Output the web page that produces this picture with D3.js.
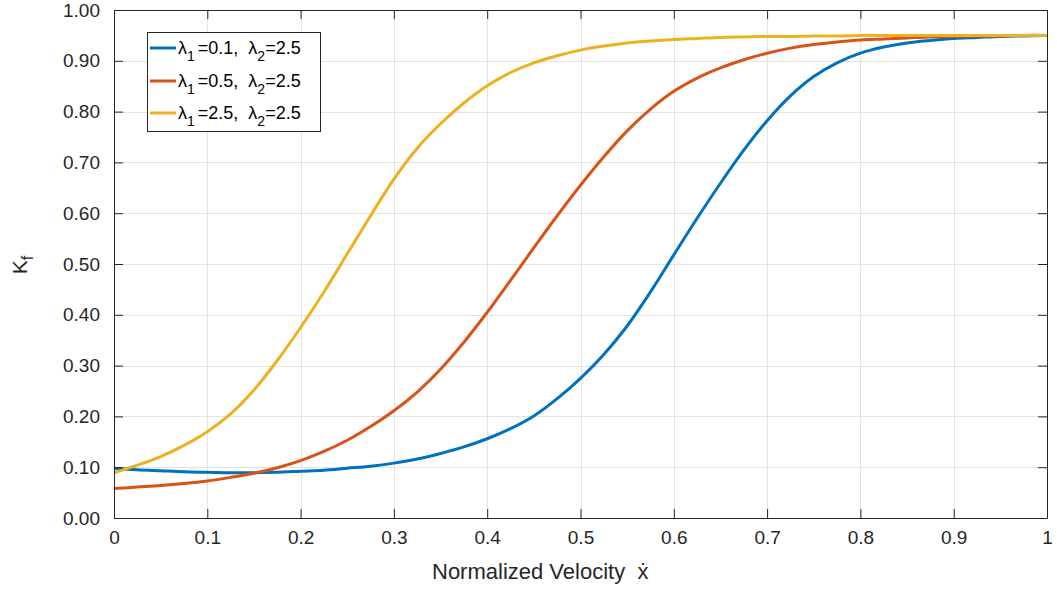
<!DOCTYPE html>
<html>
<head>
<meta charset="utf-8">
<script src="https://cdn.jsdelivr.net/npm/d3@7"></script>
<style>
  html, body { margin: 0; padding: 0; background: #fff; }
  svg { display: block; font-family: "Liberation Sans", Arial, Helvetica, sans-serif; }
</style>
</head>
<body>
<svg id="chart" width="1057" height="590"></svg>
<script>
// ---- data ----
const xs = [0, 0.025, 0.05, 0.075, 0.1, 0.125, 0.15, 0.175, 0.2, 0.225, 0.25, 0.275, 0.3, 0.325, 0.35, 0.375, 0.4, 0.425, 0.45, 0.475, 0.5,
            0.525, 0.55, 0.575, 0.6, 0.625, 0.65, 0.675, 0.7, 0.725, 0.75, 0.775, 0.8, 0.825, 0.85, 0.875, 0.9, 0.925, 0.95, 0.975, 1];
const kBlue = [0.098, 0.095, 0.093, 0.091, 0.090, 0.089, 0.089, 0.090, 0.092, 0.094, 0.098, 0.102, 0.108, 0.116, 0.127, 0.140, 0.156, 0.176, 0.201, 0.235, 0.275,
               0.322, 0.378, 0.445, 0.518, 0.590, 0.659, 0.724, 0.782, 0.831, 0.869, 0.896, 0.915, 0.927, 0.935, 0.940, 0.944, 0.946, 0.948, 0.949, 0.950];
const kRed = [0.058, 0.061, 0.064, 0.068, 0.073, 0.080, 0.088, 0.099, 0.113, 0.131, 0.153, 0.180, 0.211, 0.248, 0.293, 0.346, 0.405, 0.468, 0.532, 0.595, 0.655,
              0.711, 0.762, 0.805, 0.840, 0.866, 0.886, 0.902, 0.915, 0.925, 0.932, 0.937, 0.941, 0.943, 0.945, 0.947, 0.948, 0.949, 0.949, 0.950, 0.950];
const kYellow = [0.089, 0.104, 0.121, 0.143, 0.170, 0.205, 0.252, 0.310, 0.375, 0.445, 0.520, 0.595, 0.667, 0.728, 0.776, 0.817, 0.851, 0.877, 0.896, 0.910, 0.921,
                 0.929, 0.935, 0.939, 0.942, 0.944, 0.946, 0.947, 0.948, 0.948, 0.949, 0.949, 0.950, 0.950, 0.950, 0.950, 0.950, 0.950, 0.950, 0.950, 0.950];
const seriesNames = [["0.1", "2.5"], ["0.5", "2.5"], ["2.5", "2.5"]];
const seriesColors = ["#0072BD", "#D95319", "#EDB120"];
const xTicks = [0, 0.1, 0.2, 0.3, 0.4, 0.5, 0.6, 0.7, 0.8, 0.9, 1];
const xTickLabels = ["0", "0.1", "0.2", "0.3", "0.4", "0.5", "0.6", "0.7", "0.8", "0.9", "1"];
const yTicks = [0, 0.1, 0.2, 0.3, 0.4, 0.5, 0.6, 0.7, 0.8, 0.9, 1];
const yTickLabels = ["0.00", "0.10", "0.20", "0.30", "0.40", "0.50", "0.60", "0.70", "0.80", "0.90", "1.00"];

const svg = d3.select("#chart");
const L = 114, R = 1047, T = 10, B = 518;
const x = d3.scaleLinear().domain([0, 1]).range([L, R]);
const y = d3.scaleLinear().domain([0, 1]).range([B, T]);
const axisColor = "#262626";
const tickFont = 19;

// grid
const grid = svg.append("g").attr("stroke", "#e3e3e3").attr("stroke-width", 1);
grid.selectAll("line.gx").data(xTicks.slice(1, -1)).join("line")
  .attr("x1", d => Math.round(x(d)) + 0.5).attr("x2", d => Math.round(x(d)) + 0.5)
  .attr("y1", T).attr("y2", B);
grid.selectAll("line.gy").data(yTicks.slice(1, -1)).join("line")
  .attr("y1", d => Math.round(y(d)) + 0.5).attr("y2", d => Math.round(y(d)) + 0.5)
  .attr("x1", L).attr("x2", R);

// lines
const data = [kBlue, kRed, kYellow];
const line = d3.line().x((d, i) => x(xs[i])).y(d => y(d)).curve(d3.curveCatmullRom.alpha(0.5));
svg.append("g").selectAll("path").data(data).join("path")
  .attr("d", d => line(d))
  .attr("fill", "none")
  .attr("stroke", (d, i) => seriesColors[i])
  .attr("stroke-width", 3)
  .attr("stroke-linejoin", "round");

// axes
function styleAxis(g) {
  g.attr("font-family", null);
  g.select(".domain").attr("stroke", axisColor).attr("stroke-width", 1);
  g.selectAll(".tick line").attr("stroke", axisColor).attr("stroke-width", 1);
  g.selectAll(".tick text").attr("fill", axisColor).attr("font-size", tickFont);
}
const xAxis = d3.axisBottom(x).tickValues(xTicks).tickFormat((d, i) => xTickLabels[i])
  .tickSizeInner(-9).tickSizeOuter(0).tickPadding(13);
svg.append("g").attr("transform", `translate(0,${B})`).call(xAxis).call(styleAxis);
const yAxis = d3.axisLeft(y).tickValues(yTicks).tickFormat((d, i) => yTickLabels[i])
  .tickSizeInner(-9).tickSizeOuter(0).tickPadding(14);
svg.append("g").attr("transform", `translate(${L},0)`).call(yAxis).call(styleAxis);
const xTop = d3.axisTop(x).tickValues(xTicks).tickFormat("").tickSizeInner(-9).tickSizeOuter(0);
svg.append("g").attr("transform", `translate(0,${T})`).call(xTop).call(styleAxis);
const yRight = d3.axisRight(y).tickValues(yTicks).tickFormat("").tickSizeInner(-9).tickSizeOuter(0);
svg.append("g").attr("transform", `translate(${R},0)`).call(yRight).call(styleAxis);

// axis labels
svg.append("text").attr("x", 432).attr("y", 579).attr("text-anchor", "start")
  .attr("font-size", 22).attr("fill", axisColor).style("white-space", "pre")
  .text("Normalized Velocity  \u1E8B");

const yl = svg.append("text").attr("transform", "translate(27,265) rotate(-90)")
  .attr("text-anchor", "middle").attr("font-size", 21).attr("fill", axisColor);
yl.append("tspan").text("K");
yl.append("tspan").attr("dy", 6).attr("font-size", 16).text("f");

// legend
const lg = svg.append("g");
lg.append("rect").attr("x", 147.5).attr("y", 32.5).attr("width", 173).attr("height", 99)
  .attr("fill", "#fff").attr("stroke", axisColor).attr("stroke-width", 1);
const rowY = [48, 81, 113];
seriesNames.forEach((s, i) => {
  lg.append("line").attr("x1", 150).attr("x2", 176).attr("y1", rowY[i]).attr("y2", rowY[i])
    .attr("stroke", seriesColors[i]).attr("stroke-width", 3);
  const t = lg.append("text").attr("x", 178).attr("y", rowY[i] + 6).attr("font-size", 18)
    .attr("fill", "#000").style("white-space", "pre");
  t.append("tspan").text("\u03BB");
  t.append("tspan").attr("dy", 7).attr("font-size", 14).text("1");
  t.append("tspan").attr("dy", -7).attr("dx", 3).text("=" + s[0] + ",  \u03BB");
  t.append("tspan").attr("dy", 7).attr("font-size", 14).text("2");
  t.append("tspan").attr("dy", -7).text("=" + s[1]);
});
</script>
</body>
</html>
